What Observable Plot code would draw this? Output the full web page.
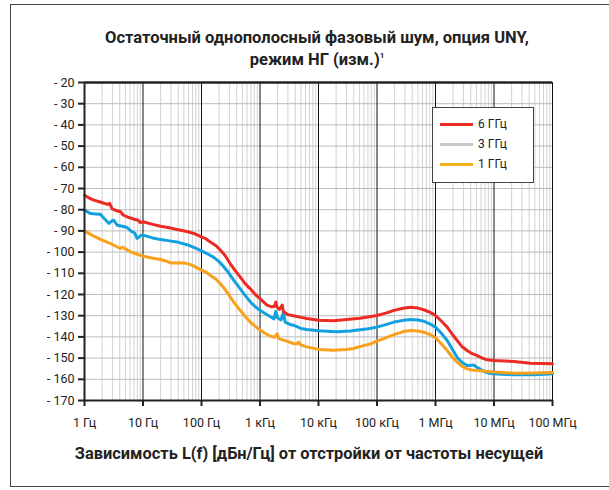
<!DOCTYPE html>
<html><head><meta charset="utf-8">
<script src="https://cdn.jsdelivr.net/npm/d3@7"></script>
<script src="https://cdn.jsdelivr.net/npm/@observablehq/plot@0.6"></script>
<style>
html,body{margin:0;padding:0;background:#fff;}
#wrap{position:relative;width:609px;height:490px;overflow:hidden;font-family:Roboto,"Noto Sans",sans-serif;}
#frame{position:absolute;left:10px;top:4px;width:620px;height:483px;border:1.5px solid #444;box-sizing:border-box;}
#title{position:absolute;left:0;width:634px;top:29px;text-align:center;font-weight:bold;font-size:16.5px;line-height:18px;color:#222;}
#xtitle{position:absolute;left:0;width:618px;top:444px;text-align:center;font-weight:bold;font-size:16.4px;color:#222;}
#chart{position:absolute;left:0;top:0;}
#legend{position:absolute;left:432px;top:107px;width:102px;height:76px;border:1.5px solid #444;box-sizing:border-box;background:#fff;font-family:Roboto,sans-serif;font-size:12px;color:#222;}
.li{position:absolute;left:7px;height:14px;}
.li span.sw{position:absolute;left:0;top:6px;width:33px;height:3px;}
.li span.tx{position:absolute;left:38px;top:0;white-space:nowrap;}
</style></head>
<body>
<div id="wrap">
  <div id="frame"></div>
  <div id="chart"></div>
  <div id="title">Остаточный однополосный фазовый шум, опция UNY,<br>режим НГ (изм.)<sup style="font-size:8px">1</sup></div>
  <div id="xtitle">Зависимость L(f) [дБн/Гц] от отстройки от частоты несущей</div>
  <div id="legend"></div>
</div>
<script>
// ---- data ----
const xTickValues = [1, 10, 100, 1e3, 1e4, 1e5, 1e6, 1e7, 1e8];
const xTickLabels = ["1 Гц", "10 Гц", "100 Гц", "1 кГц", "10 кГц", "100 кГц", "1 МГц", "10 МГц", "100 МГц"];
const yTickValues = [-20, -30, -40, -50, -60, -70, -80, -90, -100, -110, -120, -130, -140, -150, -160, -170];
const seriesNames = ["6 ГГц", "3 ГГц", "1 ГГц"];
const seriesColors = ["#ec2b24", "#12a0df", "#f7a11c"];
const legendColors = ["#ec2b24", "#c8c8c8", "#f5b21a"];

// log10 of offset frequency (Hz) and L(f) in dBc/Hz
const red6Log = [0,0.08,0.16,0.28,0.39,0.43,0.47,0.55,0.62,0.66,0.73,0.85,0.92,0.95,1.0,1.15,1.3,1.45,1.58,1.75,1.87,2.0,2.08,2.15,2.25,2.32,2.4,2.49,2.57,2.66,2.75,2.83,2.92,3.0,3.06,3.12,3.2,3.25,3.27,3.29,3.33,3.38,3.4,3.48,3.57,3.7,3.8,4.0,4.26,4.48,4.71,5.0,5.15,5.29,5.45,5.57,5.7,5.8,5.9,6.0,6.1,6.2,6.28,6.37,6.45,6.54,6.62,6.71,6.8,6.88,7.0,7.34,7.62,8.0];
const red6Val = [-73.2,-74.5,-75.5,-76.5,-77.5,-77.0,-79.5,-80.5,-81,-82.5,-83.4,-84.5,-85.0,-86.0,-85.7,-86.8,-87.8,-88.5,-89.3,-90.3,-91.2,-92.8,-93.8,-95.2,-97,-99,-101.5,-105.4,-108.5,-111.7,-115,-117.2,-120,-121.9,-123.5,-125,-125.8,-125.5,-123.5,-126,-127,-125,-128,-129.5,-130,-130.8,-131.3,-132.1,-132.4,-131.8,-131.2,-129.9,-128.8,-127.5,-126.5,-126,-126.4,-127.2,-128.3,-129.9,-132.5,-135.4,-138.5,-141.7,-144.5,-146.4,-147.8,-148.8,-150,-150.8,-151.1,-151.6,-152.4,-152.7];

const blue3Log = [0,0.1,0.2,0.27,0.35,0.42,0.47,0.5,0.56,0.65,0.73,0.8,0.86,0.9,0.93,0.96,1.0,1.15,1.3,1.45,1.58,1.75,1.87,2.0,2.1,2.21,2.3,2.38,2.47,2.55,2.64,2.72,2.8,2.86,2.93,3.0,3.1,3.18,3.24,3.27,3.3,3.36,3.4,3.43,3.5,3.57,3.7,3.8,4.0,4.31,4.54,4.71,4.85,5.0,5.15,5.29,5.45,5.57,5.7,5.8,5.9,6.0,6.1,6.2,6.28,6.37,6.45,6.54,6.6,6.65,6.72,6.82,6.9,7.0,7.34,7.7,8.0];
const blue3Val = [-80.2,-81.8,-82.0,-82.1,-84.5,-86.5,-85.2,-85.0,-87.3,-87.8,-88.4,-90.2,-91.0,-93.5,-93.0,-92.2,-92.0,-93.2,-94.1,-94.7,-95.2,-96.5,-97.8,-99.4,-100.8,-102.5,-104.5,-106.9,-110,-113.2,-116.5,-119.5,-122.3,-124.2,-126,-127.4,-129.2,-130.5,-131.5,-128,-131,-132,-128.5,-133,-134,-134.5,-136,-136.5,-137.1,-137.6,-137.2,-136.6,-136.2,-135.4,-134.2,-133,-132.2,-131.8,-132,-132.6,-133.8,-135.4,-138.3,-141.7,-145.5,-149.6,-152,-153.5,-153.5,-153.2,-154.5,-156.2,-157,-157.4,-157.9,-157.8,-157.4];

const orange1Log = [0,0.08,0.16,0.3,0.44,0.52,0.61,0.65,0.7,0.79,0.9,1.0,1.15,1.3,1.4,1.47,1.6,1.7,1.8,1.87,2.0,2.08,2.15,2.25,2.32,2.4,2.49,2.57,2.66,2.75,2.83,2.92,3.0,3.1,3.18,3.25,3.29,3.32,3.4,3.48,3.57,3.63,3.66,3.7,3.8,4.0,4.26,4.48,4.6,4.77,4.9,5.0,5.15,5.29,5.45,5.57,5.7,5.8,5.9,6.0,6.1,6.2,6.28,6.37,6.45,6.54,6.62,6.71,6.85,7.0,7.34,7.7,8.0];
const orange1Val = [-90,-91.3,-92.5,-94.3,-95.9,-97,-98.3,-97.6,-98.5,-99.9,-101,-101.9,-102.8,-103.5,-104.3,-105.1,-105.0,-105.1,-105.8,-106.6,-108.5,-109.5,-110.9,-112.8,-114.8,-117.5,-121.1,-124.3,-127.4,-130.5,-132.9,-135,-136.8,-138.5,-139.7,-140.2,-138.5,-140.8,-141.5,-142.2,-143.1,-143.3,-142.5,-143.8,-144.7,-145.9,-146.3,-145.9,-145.5,-144.1,-143.2,-142,-140.5,-138.9,-137.5,-137,-137.2,-137.8,-138.8,-140.4,-143.2,-146.4,-149.3,-151.9,-153.8,-155.1,-155.6,-155.8,-156.2,-156.6,-157.1,-157.0,-156.8];

// ---- build ----
const toRows = (logs, vals) => logs.map((e, i) => ({f: Math.pow(10, e), v: vals[i]}));
const red = toRows(red6Log, red6Val);
const blue = toRows(blue3Log, blue3Val);
const orange = toRows(orange1Log, orange1Val);

const minor = [];
for (let k = 0; k < 8; k++) for (let m = 2; m <= 9; m++) minor.push(m * Math.pow(10, k));

const tickFont = '"Liberation Sans Narrow", Roboto, sans-serif';
const xLabelOf = d => {
  let best = 0;
  xTickValues.forEach((v, i) => { if (Math.abs(Math.log10(v) - Math.log10(d)) < Math.abs(Math.log10(xTickValues[best]) - Math.log10(d))) best = i; });
  return xTickLabels[best];
};

const chart = Plot.plot({
  width: 609, height: 490,
  marginLeft: 84, marginRight: 57, marginTop: 82, marginBottom: 90,
  x: {type: "log", domain: [1, 1e8]},
  y: {domain: [-170, -20]},
  style: {fontFamily: tickFont, fontSize: "12.5px", color: "#222", background: "transparent"},
  marks: [
    Plot.ruleX(minor, {stroke: "#d2d2d2", strokeWidth: 1}),
    Plot.ruleY(yTickValues, {stroke: "#bcbcbc", strokeWidth: 1}),
    Plot.ruleX(xTickValues, {stroke: "#111", strokeWidth: 1}),
    Plot.line(blue, {x: "f", y: "v", stroke: seriesColors[1], strokeWidth: 3}),
    Plot.line(orange, {x: "f", y: "v", stroke: seriesColors[2], strokeWidth: 3}),
    Plot.line(red, {x: "f", y: "v", stroke: seriesColors[0], strokeWidth: 3}),
    Plot.ruleY([-20], {stroke: "#222", strokeWidth: 2.5}),
    Plot.ruleY([-170], {stroke: "#222", strokeWidth: 2}),
    Plot.ruleX([1], {stroke: "#222", strokeWidth: 2}),
    Plot.axisY(yTickValues, {tickFormat: d => "- " + Math.abs(d), tickSize: 6, tickPadding: 4, strokeWidth: 2, stroke: "#222", label: null}),
    Plot.axisX(xTickValues, {tickFormat: xLabelOf, tickSize: 6, tickPadding: 12, strokeWidth: 2, stroke: "#222", label: null})
  ]
});
document.getElementById("chart").appendChild(chart);

const lg = document.getElementById("legend");
seriesNames.forEach((n, i) => {
  const d = document.createElement("div");
  d.className = "li";
  d.style.top = (9 + i * 20) + "px";
  d.innerHTML = `<span class="sw" style="background:${legendColors[i]}"></span><span class="tx">${n}</span>`;
  lg.appendChild(d);
});
</script>
</body></html>
